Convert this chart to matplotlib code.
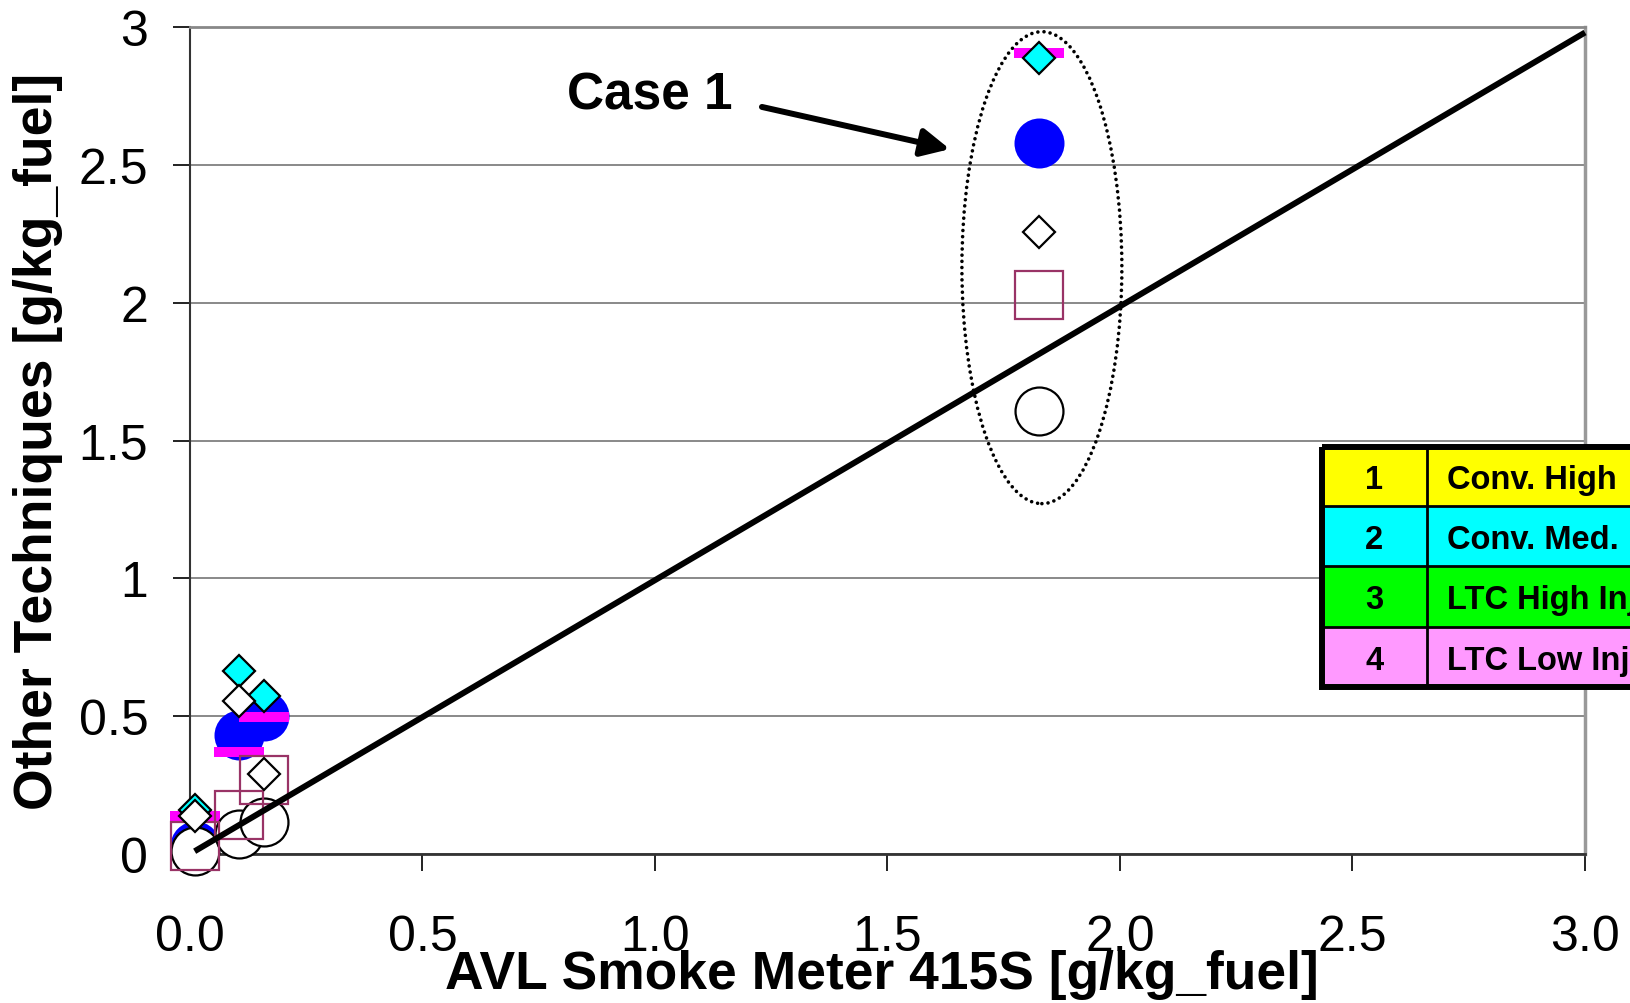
import numpy as np
import matplotlib
matplotlib.use("Agg")
import matplotlib.pyplot as plt
from matplotlib.patches import Ellipse, Rectangle

plt.rcParams['font.family'] = ['Liberation Sans', 'DejaVu Sans']

# Smoke meter readings (x) for the four operating points
avl_smoke = [0.01, 0.105, 0.16, 1.825]

# Soot estimates from the other measurement techniques at those points
filled_circle_vals = [0.03, 0.43, 0.50, 2.58]
bar_vals = [0.138, 0.37, 0.497, 2.905]
cyan_diamond_vals = [0.16, 0.664, 0.573, 2.886]
open_circle_vals = [0.01, 0.073, 0.116, 1.607]
square_vals = [0.03, 0.141, 0.27, 2.028]
white_diamond_vals = [0.138, 0.556, 0.29, 2.258]

# Reference line
ref_x = [0.01, 3.0]
ref_y = [0.01, 2.98]

x_ticks = [0.0, 0.5, 1.0, 1.5, 2.0, 2.5, 3.0]
x_tick_labels = ["0.0", "0.5", "1.0", "1.5", "2.0", "2.5", "3.0"]
y_ticks = [0, 0.5, 1, 1.5, 2, 2.5, 3]
y_tick_labels = ["0", "0.5", "1", "1.5", "2", "2.5", "3"]

case_ids = ["1", "2", "3", "4"]
case_names = ["Conv. High  Inj.", "Conv. Med. Inj.", "LTC High Inj.", "LTC Low Inj."]
case_colors = ["#FFFF00", "#00FFFF", "#00FF00", "#FF99FF"]

W, H = 1631, 1004
fig = plt.figure(figsize=(W / 100, H / 100), dpi=100)
fig.patch.set_facecolor("white")

ax = fig.add_axes([190 / W, 1 - 855 / H, 1395 / W, 827 / H])
ax.set_xlim(0, 3)
ax.set_ylim(0, 3)

ax.set_xticks(x_ticks)
ax.set_xticklabels(x_tick_labels)
ax.set_yticks(y_ticks)
ax.set_yticklabels(y_tick_labels)
ax.tick_params(axis="both", direction="out", length=12, width=1.4,
               colors="#222222", labelcolor="black", labelsize=36)
ax.tick_params(axis="x", pad=31)
ax.tick_params(axis="y", pad=18)

ax.yaxis.grid(True, color="#808080", lw=1.3, zorder=0)
ax.set_axisbelow(True)

ax.spines["left"].set_color("#333333")
ax.spines["left"].set_linewidth(1.5)
ax.spines["bottom"].set_color("#333333")
ax.spines["bottom"].set_linewidth(2.0)
ax.spines["top"].set_color("#888888")
ax.spines["top"].set_linewidth(2.0)
ax.spines["right"].set_color("#999999")
ax.spines["right"].set_linewidth(2.5)

ax.plot(avl_smoke, filled_circle_vals, ls="none", marker="o", ms=36,
        mfc="#0000FF", mec="none", zorder=3, clip_on=False)
ax.plot(avl_smoke, bar_vals, ls="none", marker="_", ms=36, mew=7.2,
        color="#FF00FF", zorder=4, clip_on=False)
ax.plot(avl_smoke, cyan_diamond_vals, ls="none", marker="D", ms=16.2,
        mfc="#00FFFF", mec="black", mew=1.6, zorder=5, clip_on=False)
ax.plot(avl_smoke, open_circle_vals, ls="none", marker="o", ms=34.5,
        mfc="white", mec="black", mew=1.6, zorder=6, clip_on=False)
ax.plot(avl_smoke, square_vals, ls="none", marker="s", ms=34.5,
        mfc="none", mec="#993366", mew=1.6, zorder=7, clip_on=False)
ax.plot(avl_smoke, white_diamond_vals, ls="none", marker="D", ms=16.2,
        mfc="white", mec="black", mew=1.6, zorder=8, clip_on=False)

ax.plot(ref_x, ref_y, color="black", lw=4.3, solid_capstyle="butt",
        zorder=9, clip_on=False)

# Dotted outline around the Case 1 group
ring = Ellipse((1.832, 2.127), width=0.344, height=1.712, fill=False,
               edgecolor="black", lw=2.6, linestyle=(0, (0.01, 1.7)),
               capstyle="round", zorder=10, clip_on=False)
ax.add_patch(ring)

ax.text(0.811, 2.706, "Case 1", fontsize=37, fontweight="bold",
        ha="left", va="baseline", zorder=11)
ax.annotate("", xy=(1.634, 2.557), xytext=(1.230, 2.710),
            arrowprops=dict(arrowstyle="-|>,head_length=0.85,head_width=0.42",
                            lw=4.3, color="black", mutation_scale=20,
                            shrinkA=0, shrinkB=0),
            zorder=11)

fig.text(38 / W, 1 - 441.5 / H, "Other Techniques [g/kg_fuel]",
         rotation=90, ha="center", va="center", fontsize=38.5, fontweight="bold")
fig.text(882 / W, 1 - 989 / H, "AVL Smoke Meter 415S [g/kg_fuel]",
         ha="center", va="baseline", fontsize=38.4, fontweight="bold")

# Case key table, laid out in figure pixels
key = fig.add_axes([0, 0, 1, 1], zorder=20)
key.set_xlim(0, W)
key.set_ylim(H, 0)
key.axis("off")
key.patch.set_alpha(0)

left, right = 1322, 1720
bounds = [447.5, 507.3, 567.3, 627.7, 688]
divider = 1426.7
for i, (cid, name, col) in enumerate(zip(case_ids, case_names, case_colors)):
    top, bot = bounds[i], bounds[i + 1]
    key.add_patch(Rectangle((left, top), right - left, bot - top,
                            facecolor=col, edgecolor="none", zorder=1))
    mid = (top + bot) / 2
    key.text((left + divider) / 2, mid + 11.7, cid, fontsize=23.5,
             fontweight="bold", ha="center", va="baseline", zorder=3)
    key.text(1447, mid + 11.7, name, fontsize=23.5, fontweight="bold",
             ha="left", va="baseline", zorder=3)
for b in bounds[1:-1]:
    key.plot([left, right], [b, b], color="black", lw=2.0, zorder=2)
key.plot([divider, divider], [bounds[0], bounds[-1]], color="black", lw=2.0,
         zorder=2)
key.add_patch(Rectangle((left, bounds[0]), right - left, bounds[-1] - bounds[0],
                        facecolor="none", edgecolor="black", lw=4.3, zorder=4))

fig.savefig("out.png", dpi=100, facecolor="white")
